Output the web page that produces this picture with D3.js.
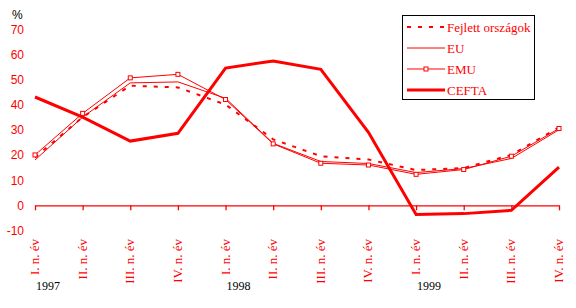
<!DOCTYPE html>
<html>
<head>
<meta charset="utf-8">
<script src="https://cdn.jsdelivr.net/npm/d3@7"></script>
<style>
  body { margin: 0; background: #fff; }
  svg { display: block; }
</style>
</head>
<body>
<svg id="chart" width="576" height="308"></svg>
<script>
// quarters and years
const quarters = ["I. n. év", "II. n. év", "III. n. év", "IV. n. év",
                  "I. n. év", "II. n. év", "III. n. év", "IV. n. év",
                  "I. n. év", "II. n. év", "III. n. év", "IV. n. év"];
const years = ["1997", "1998", "1999"];
const yTicks = [-10, 0, 10, 20, 30, 40, 50, 60, 70];

// series values (%)
const fejlett = [19, 35, 47.5, 46.8, 40, 26.2, 19.5, 18.2, 14, 14.8, 20, 31];
const eu      = [18, 35, 48.6, 49, 42.5, 24.6, 17.4, 16.6, 13, 14.6, 18.6, 30];
const emu     = [20, 36.5, 50.6, 52, 42, 24.4, 16.7, 16, 12.3, 14.2, 19.5, 30.5];
const cefta   = [43, 35, 25.5, 28.6, 54.5, 57.3, 54, 29, -3.6, -3.3, -2, 15.2];

const svg = d3.select("#chart");
const red = "#ff0000";

const x = d3.scalePoint()
    .domain(d3.range(quarters.length))
    .range([35, 559]);

const y = d3.scaleLinear()
    .domain([-10, 70])
    .range([230.5, 29]);

// y labels (no axis line)
svg.append("g")
    .selectAll("text")
    .data(yTicks)
    .enter()
    .append("text")
    .attr("x", 24)
    .attr("y", d => y(d) + 4.5)
    .attr("text-anchor", "end")
    .attr("fill", red)
    .style("font", "12px 'Liberation Sans', Arial, sans-serif")
    .text(d => d);

svg.append("text")
    .attr("x", 12)
    .attr("y", 19)
    .attr("fill", "#000")
    .style("font", "12px 'Liberation Sans', Arial, sans-serif")
    .text("%");

// x axis at zero
const xAxis = d3.axisBottom(x)
    .tickSize(5)
    .tickSizeOuter(0)
    .tickFormat(() => "");

const gx = svg.append("g")
    .attr("transform", `translate(0,${y(0)})`)
    .call(xAxis);
gx.select(".domain").attr("stroke", red).attr("stroke-width", 1.3);
gx.selectAll(".tick line").attr("stroke", red).attr("stroke-width", 1.3);

// rotated quarter labels
svg.append("g")
    .selectAll("text")
    .data(quarters)
    .enter()
    .append("text")
    .attr("transform", (d, i) => `translate(${x(i) + 4},239) rotate(-90)`)
    .attr("text-anchor", "end")
    .attr("fill", red)
    .style("font", "13px 'Liberation Serif', 'Times New Roman', serif")
    .text(d => d);

// year labels
svg.append("g")
    .selectAll("text")
    .data(years)
    .enter()
    .append("text")
    .attr("x", (d, i) => x(i * 4) + 1)
    .attr("y", 290)
    .attr("fill", "#000")
    .style("font", "12px 'Liberation Serif', 'Times New Roman', serif")
    .text(d => d);

const line = d3.line()
    .x((d, i) => x(i))
    .y(d => y(d));

const series = [
  { name: "Fejlett országok", data: fejlett, width: 2, dash: "4,7" },
  { name: "EU", data: eu, width: 1, dash: null },
  { name: "EMU", data: emu, width: 1, dash: null, marker: true },
  { name: "CEFTA", data: cefta, width: 3, dash: null }
];

series.forEach(s => {
  svg.append("path")
      .datum(s.data)
      .attr("d", line)
      .attr("fill", "none")
      .attr("stroke", red)
      .attr("stroke-width", s.width)
      .attr("stroke-dasharray", s.dash);
  if (s.marker) {
    svg.append("g")
        .selectAll("rect")
        .data(s.data)
        .enter()
        .append("rect")
        .attr("x", (d, i) => x(i) - 2)
        .attr("y", d => y(d) - 2)
        .attr("width", 4)
        .attr("height", 4)
        .attr("fill", "#fff")
        .attr("stroke", red)
        .attr("stroke-width", 1);
  }
});

// legend
const legend = svg.append("g");
legend.append("rect")
    .attr("x", 402.5)
    .attr("y", 15.5)
    .attr("width", 132)
    .attr("height", 84)
    .attr("fill", "#fff")
    .attr("stroke", "#000")
    .attr("stroke-width", 1);

series.forEach((s, i) => {
  const ly = 27 + i * 21;
  legend.append("line")
      .attr("x1", 407)
      .attr("x2", 445)
      .attr("y1", ly)
      .attr("y2", ly)
      .attr("stroke", red)
      .attr("stroke-width", s.width)
      .attr("stroke-dasharray", s.dash);
  if (s.marker) {
    legend.append("rect")
        .attr("x", 424)
        .attr("y", ly - 2)
        .attr("width", 4)
        .attr("height", 4)
        .attr("fill", "#fff")
        .attr("stroke", red);
  }
  legend.append("text")
      .attr("x", 447)
      .attr("y", ly + 4.5)
      .attr("fill", red)
      .style("font", "13px 'Liberation Serif', 'Times New Roman', serif")
      .text(s.name);
});
</script>
</body>
</html>
